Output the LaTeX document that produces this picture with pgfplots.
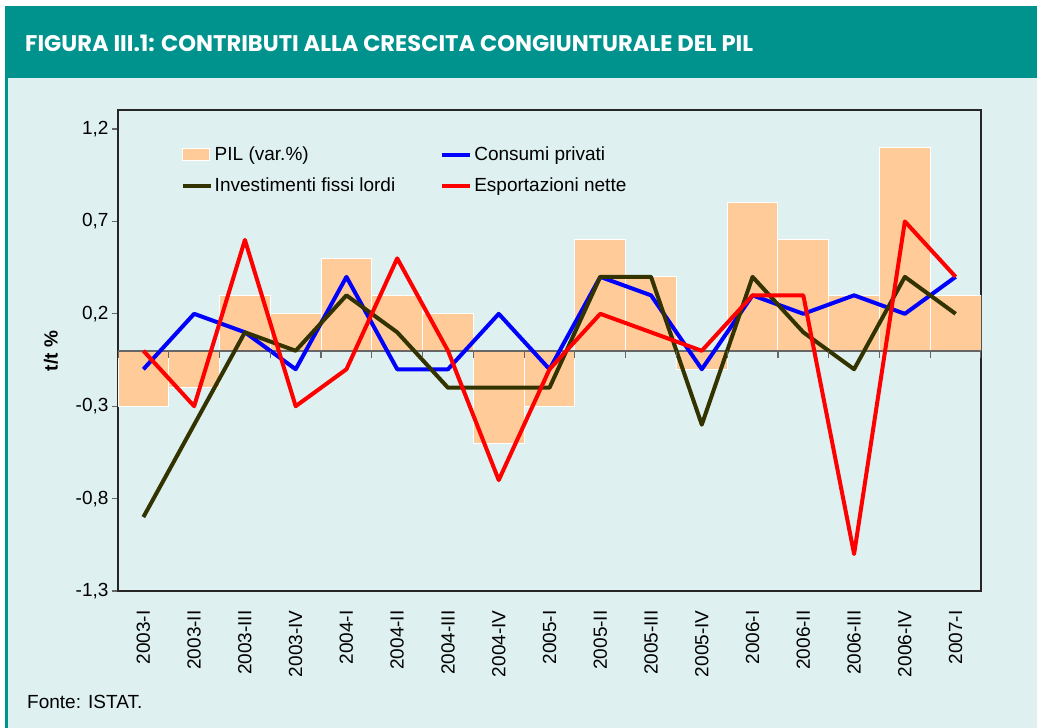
\documentclass[border=0pt]{standalone}
\usepackage{fontspec}
\setmainfont{Liberation Sans}
\newfontfamily\titlefont{Poppins}
\usepackage{pgfplots}
\usepackage{pgfplotstable}
\pgfplotsset{compat=1.18}
\definecolor{Header}{HTML}{00928D}
\definecolor{Panel}{HTML}{DEF0EF}
\definecolor{PilBar}{HTML}{FFCC99}
\definecolor{Invest}{HTML}{333300}

\pgfplotsset{
  lineleg/.style={legend image code/.code={\draw[##1] (0pt,0pt) -- (28pt,0pt);}},
  barleg/.style={legend image code/.code={\draw[##1] (0pt,-6pt) rectangle (27pt,6pt);}},
}

% PIL, consumi privati, investimenti fissi lordi, esportazioni nette
\pgfplotstableread{
idx pil cons inv exp
0  -0.3 -0.1 -0.9  0.0
1  -0.2  0.2 -0.4 -0.3
2   0.3  0.1  0.1  0.6
3   0.2 -0.1  0.0 -0.3
4   0.5  0.4  0.3 -0.1
5   0.3 -0.1  0.1  0.5
6   0.2 -0.1 -0.2  0.0
7  -0.5  0.2 -0.2 -0.7
8  -0.3 -0.1 -0.2 -0.1
9   0.6  0.4  0.4  0.2
10  0.4  0.3  0.4  0.1
11 -0.1 -0.1 -0.4  0.0
12  0.8  0.3  0.4  0.3
13  0.6  0.2  0.1  0.3
14  0.3  0.3 -0.1 -1.1
15  1.1  0.2  0.4  0.7
16  0.3  0.4  0.2  0.4
}\datatab

\begin{document}
\begin{tikzpicture}[x=1pt,y=1pt]
\fill[white] (0,0) rectangle (1037,728);
\fill[Header] (5,650) rectangle (1037,722);
\fill[Panel] (5,0) rectangle (1037,650);
\fill[Header] (5,0) rectangle (7.5,650);
\node[anchor=west, text=white, inner sep=0pt,
  font=\titlefont\bfseries\fontsize{22.6}{26}\selectfont] at (25,685)
  {FIGURA III.1: CONTRIBUTI ALLA CRESCITA CONGIUNTURALE DEL PIL};
\node[anchor=base west, inner sep=0pt, font=\fontsize{19}{22}\selectfont]
  at (27,19) {Fonte: ISTAT.};
\node[rotate=90, font=\bfseries\fontsize{19}{22}\selectfont] at (51,377) {t/t \%};

\begin{axis}[
  at={(118pt,137pt)}, anchor=south west,
  width=863pt, height=481pt, scale only axis,
  xmin=-0.5, xmax=16.5, ymin=-1.3, ymax=1.303,
  axis line style={black!85, line width=1.2pt},
  tick align=outside, major tick length=6pt,
  ytick pos=left,
  ytick={-1.3,-0.8,-0.3,0.2,0.7,1.2},
  yticklabels={{-1,3},{-0,8},{-0,3},{0,2},{0,7},{1,2}},
  ytick style={black!60, line width=1.2pt},
  y tick label style={font=\fontsize{19}{22}\selectfont},
  xtick={0,...,16},
  xticklabels={2003-I,2003-II,2003-III,2003-IV,2004-I,2004-II,2004-III,2004-IV,
    2005-I,2005-II,2005-III,2005-IV,2006-I,2006-II,2006-III,2006-IV,2007-I},
  xtick style={draw=none},
  xticklabel shift=10pt,
  x tick label style={rotate=90, anchor=east, font=\fontsize{19}{22}\selectfont},
  legend columns=2,
  legend cell align=left,
  legend style={draw=none, fill=none, at={(axis description cs:0.069,0.932)},
    anchor=north west, font=\fontsize{19}{22}\selectfont,
    /tikz/every even column/.append style={column sep=43pt},
    row sep=12pt},
]
\addplot[fill=PilBar, draw=white, line width=1pt, ybar, bar width=1, barleg]
  table[x=idx, y=pil] {\datatab};
\addlegendentry{PIL (var.\%)}
\addplot[black!60, line width=1.5pt, forget plot] coordinates {(-0.5,0) (16.5,0)};
\addplot[blue, line width=4pt, line join=round, lineleg] table[x=idx, y=cons] {\datatab};
\addlegendentry{Consumi privati}
\addplot[Invest, line width=4pt, line join=round, lineleg] table[x=idx, y=inv] {\datatab};
\addlegendentry{Investimenti fissi lordi}
\addplot[red, line width=4pt, line join=round, lineleg] table[x=idx, y=exp] {\datatab};
\addlegendentry{Esportazioni nette}
\pgfplotsinvokeforeach{-0.5,0.5,1.5,2.5,3.5,4.5,5.5,6.5,7.5,8.5,9.5,10.5,11.5,12.5,13.5,14.5,15.5,16.5}{
  \draw[black!60, line width=1.2pt] (axis cs:#1,0) -- ++(0pt,-7pt);
}
\end{axis}
\end{tikzpicture}
\end{document}
